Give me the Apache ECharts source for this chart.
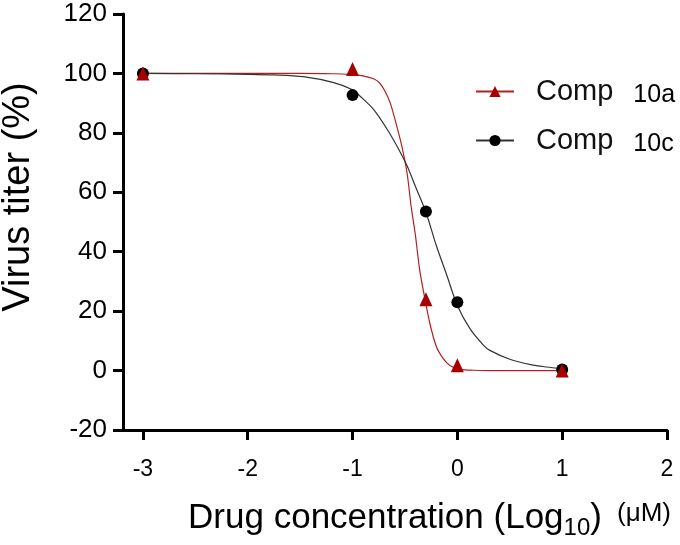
<!DOCTYPE html>
<html><head><meta charset="utf-8">
<script src="https://cdn.jsdelivr.net/npm/echarts@6/dist/echarts.min.js"></script>
<style>html,body{margin:0;padding:0;background:#fff}#c{width:680px;height:545px}</style>
</head><body><div id="c"></div>
<script>
// measured data points
const pointX = [-3, -1, -0.3, 0, 1];
const comp10a = [100, 101.5, 24, 1.8, 0];
const comp10c = [100, 92.7, 53.5, 23, 0.4];
// fitted curves
const curveAX = [-3, -2.5, -2, -1.5, -1.2, -1.0, -0.9, -0.8, -0.74, -0.69, -0.64, -0.58, -0.53, -0.48, -0.44, -0.40, -0.36, -0.31, -0.26, -0.20, -0.15, -0.10, -0.05, 0.03, 0.15, 0.3, 0.6, 1];
const curveAY = [100, 100, 100, 100, 99.9, 99.6, 99.2, 98.2, 96.7, 94, 90, 82.5, 75.5, 66.5, 55, 45.5, 34, 24.2, 15.5, 8, 4.8, 2.6, 1.3, 0.4, 0.1, 0, 0, 0];
const curveCX = [-3, -2.5, -2, -1.75, -1.47, -1.18, -1.0, -0.93, -0.80, -0.67, -0.56, -0.48, -0.39, -0.30, -0.20, -0.10, 0, 0.12, 0.25, 0.31, 0.5, 0.7, 0.85, 1];
const curveCY = [100, 99.9, 99.7, 99.5, 98.9, 96.9, 94.5, 92.4, 87.9, 81.2, 74.5, 68.9, 61.1, 53.3, 42.0, 32.0, 21.9, 14.1, 8.5, 6.8, 3.8, 2.0, 1.2, 0.6];
const xTicks = [-3, -2, -1, 0, 1, 2];
const seriesNames = ['Comp 10a', 'Comp 10c'];

const FF = 'Liberation Sans, Arial, sans-serif';
const RED = '#a80000';
const zip = (xs, ys) => xs.map((x, i) => [x, ys[i]]);

const chart = echarts.init(document.getElementById('c'), null, {renderer: 'canvas'});
chart.setOption({
  animation: false,
  textStyle: {fontFamily: FF},
  grid: {left: 123, right: 13, top: 14, bottom: 113, containLabel: false},
  xAxis: {
    type: 'value', min: -3.19, max: 2,
    axisLine: {onZero: false, lineStyle: {color: '#000', width: 3}},
    axisTick: {show: true, customValues: xTicks, length: 10, lineStyle: {color: '#000', width: 3}},
    axisLabel: {customValues: xTicks, fontSize: 23, margin: 28, color: '#000', fontFamily: FF},
    splitLine: {show: false},
    name: '{m|Drug concentration (Log}{s|10}{m|)}',
    nameLocation: 'middle', nameGap: 66,
    nameTextStyle: {
      rich: {
        m: {fontSize: 35, color: '#000', fontFamily: FF},
        s: {fontSize: 24, color: '#000', fontFamily: FF, padding: [20, 0, 0, 0]}
      }
    }
  },
  yAxis: {
    type: 'value', min: -20, max: 120, interval: 20,
    axisLine: {show: true, onZero: false, lineStyle: {color: '#000', width: 3}},
    axisTick: {show: true, length: 10, lineStyle: {color: '#000', width: 3}},
    axisLabel: {fontSize: 26, margin: 16, color: '#000', fontFamily: FF},
    splitLine: {show: false}
  },
  legend: {
    orient: 'vertical', left: 475, top: 77, padding: 0, itemWidth: 38, itemHeight: 14, itemGap: 18,
    selectedMode: false,
    data: seriesNames,
    formatter: n => { const p = n.split(' '); return '{a|' + p[0] + '}{b|' + p[1] + '}'; },
    textStyle: {
      rich: {
        a: {fontSize: 29, color: '#111', fontFamily: FF, padding: [0, 0, 0, 17]},
        b: {fontSize: 25, color: '#000', fontFamily: FF, padding: [8, 0, 0, 20]}
      }
    }
  },
  graphic: [
    {type: 'text', x: 19, y: 197, rotation: Math.PI / 2,
     style: {text: 'Virus titer (%)', fontSize: 38, fill: '#000', fontFamily: FF, align: 'center', verticalAlign: 'middle'}},
    {type: 'text', x: 644, y: 514,
     style: {text: '(μM)', fontSize: 26, fill: '#000', fontFamily: FF, align: 'center', verticalAlign: 'middle'}}
  ],
  series: [
    {name: seriesNames[0], type: 'line', data: zip(curveAX, curveAY), smooth: 0.3,
     symbol: 'triangle', showSymbol: false, lineStyle: {color: '#b22020', width: 1.2}, itemStyle: {color: RED}, z: 2},
    {name: seriesNames[1], type: 'line', data: zip(curveCX, curveCY), smooth: 0.3,
     symbol: 'circle', showSymbol: false, lineStyle: {color: '#333', width: 1.2}, itemStyle: {color: '#000'}, z: 2},
    {name: 'pts10c', type: 'scatter', data: zip(pointX, comp10c), symbol: 'circle', symbolSize: 12,
     itemStyle: {color: '#000', opacity: 1}, z: 3},
    {name: 'pts10a', type: 'scatter', data: zip(pointX, comp10a), symbol: 'triangle', symbolSize: [13, 14],
     itemStyle: {color: RED, opacity: 1}, z: 4}
  ]
});
</script></body></html>
